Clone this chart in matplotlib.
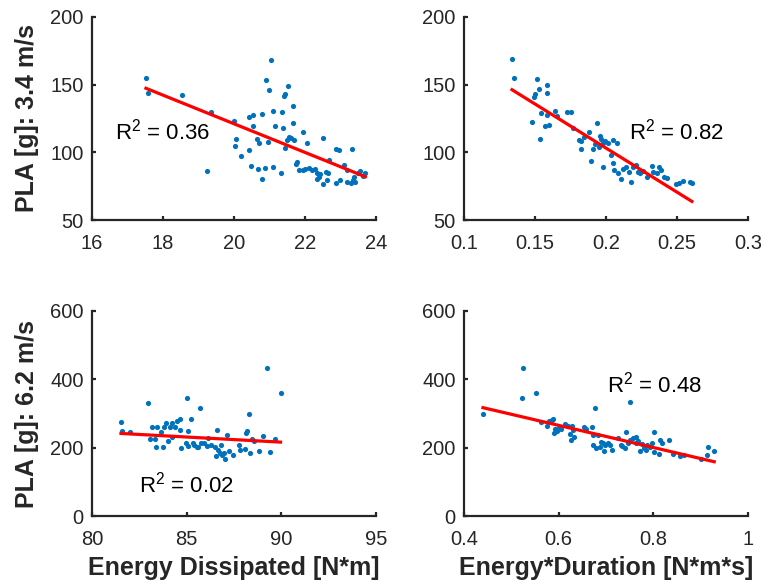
import numpy as np
import matplotlib
matplotlib.use("Agg")
import matplotlib.pyplot as plt

plt.rcParams['font.family'] = ['Liberation Sans', 'DejaVu Sans']
plt.rcParams['mathtext.fontset'] = 'custom'
plt.rcParams['mathtext.rm'] = 'Liberation Sans'
plt.rcParams['mathtext.default'] = 'regular'

# --- top row: PLA at 3.4 m/s ---
energy_34 = [17.52, 17.57, 18.54, 19.34, 19.23, 20.0, 20.06, 20.04, 20.19, 20.41,
             20.48, 20.43, 20.54, 20.53, 20.64, 20.71, 20.69, 20.8, 20.79, 20.86,
             20.9, 20.98, 21.04, 21.11, 21.09, 21.16, 20.95, 21.35, 21.33, 21.41,
             21.44, 21.52, 21.37, 21.43, 21.5, 21.54, 21.6, 21.67, 21.68, 21.67,
             21.75, 21.78, 21.82, 21.95, 22.07, 22.01, 22.12, 22.2, 22.29, 22.33,
             22.35, 22.39, 22.42, 22.52, 22.52, 22.59, 22.65, 22.67, 22.87, 22.95,
             22.87, 22.99, 23.1, 23.17, 23.31, 23.29, 23.36, 23.38, 23.49, 23.55,
             23.63, 23.7, 23.42, 23.17, 22.61, 21.93]
pla_34_e = [154.9, 143.6, 142.6, 129.8, 86.2, 122.9, 109.6, 104.9, 97.5, 101.5,
            89.9, 126.3, 127.6, 119.7, 110.1, 107.2, 87.7, 128.6, 80.3, 88.2,
            153.5, 146.1, 168.2, 130.6, 89.4, 119.5, 107.9, 129.8, 85.0, 141.6,
            143.1, 149.3, 117.7, 103.0, 109.1, 111.6, 110.6, 134.2, 109.1, 121.4,
            91.1, 93.1, 86.9, 114.8, 106.7, 87.7, 88.2, 86.9, 87.4, 84.5,
            80.6, 82.0, 84.0, 110.4, 76.9, 85.5, 85.0, 94.3, 102.5, 101.7,
            77.1, 79.3, 90.6, 86.9, 102.7, 77.1, 79.6, 82.0, 84.5, 86.5,
            82.5, 84.5, 78.1, 78.3, 79.6, 86.9]

edur_34 = [0.1338, 0.1352, 0.1516, 0.1526, 0.1502, 0.1493, 0.1582, 0.1587, 0.1479, 0.1535,
           0.1544, 0.1568, 0.1601, 0.1587, 0.1638, 0.1657, 0.1723, 0.1751, 0.1765, 0.1807,
           0.1821, 0.1845, 0.1878, 0.1897, 0.1906, 0.192, 0.1934, 0.1948, 0.1957, 0.1967,
           0.1981, 0.1976, 0.1995, 0.2013, 0.2033, 0.2047, 0.2051, 0.2056, 0.2075, 0.2084,
           0.2103, 0.2122, 0.2141, 0.216, 0.2179, 0.2192, 0.2211, 0.2225, 0.2239, 0.2258,
           0.2286, 0.2324, 0.2333, 0.2357, 0.2375, 0.239, 0.2408, 0.2432, 0.2493, 0.2511,
           0.254, 0.2591, 0.2605, 0.1821]
pla_34_d = [168.7, 154.9, 154.0, 146.6, 142.9, 141.1, 149.5, 143.6, 122.7, 110.1,
            128.8, 119.7, 120.0, 127.6, 130.6, 126.8, 129.6, 129.6, 117.7, 109.1,
            102.5, 111.6, 115.0, 93.4, 102.2, 105.9, 121.4, 104.2, 112.1, 109.6,
            89.4, 106.6, 108.1, 106.6, 97.8, 109.1, 91.9, 86.9, 106.6, 85.0,
            80.1, 87.4, 89.4, 85.5, 78.1, 89.4, 90.4, 85.5, 84.5, 86.5,
            82.0, 89.9, 85.5, 84.5, 88.9, 86.9, 82.0, 81.0, 76.6, 77.1,
            79.1, 78.1, 77.6, 108.1]

# --- bottom row: PLA at 6.2 m/s ---
energy_62 = [81.53, 81.6, 81.99, 82.98, 83.05, 83.19, 83.44, 83.33, 83.4, 83.75,
             83.65, 83.79, 83.93, 84.04, 84.11, 84.21, 84.39, 84.49, 84.64, 84.64,
             84.71, 84.95, 85.04, 85.09, 85.22, 85.09, 85.31, 85.41, 85.52, 85.62,
             85.69, 85.76, 85.9, 86.05, 86.12, 86.26, 86.5, 86.54, 86.61, 86.64,
             86.75, 86.82, 86.89, 86.96, 87.03, 87.14, 87.21, 87.46, 87.74, 87.81,
             88.06, 88.13, 88.2, 88.27, 88.44, 88.37, 88.58, 88.8, 89.01, 89.22,
             89.39, 89.68, 89.96, 84.25]
pla_62_e = [274.7, 247.4, 245.4, 332.1, 224.0, 261.0, 261.0, 224.0, 202.6, 202.6,
            245.4, 261.0, 270.8, 220.1, 259.1, 231.8, 261.0, 278.6, 282.5, 251.3,
            197.7, 212.3, 346.7, 247.4, 284.4, 204.5, 212.3, 207.5, 200.6, 200.6,
            317.5, 212.3, 214.3, 204.5, 226.9, 207.5, 202.6, 175.3, 251.3, 192.9,
            185.1, 207.5, 177.3, 185.1, 167.5, 237.7, 189.0, 178.2, 208.4, 192.9,
            196.8, 241.6, 247.4, 298.0, 224.0, 183.1, 220.1, 190.9, 233.8, 432.5,
            188.0, 224.0, 360.4, 270.8]

edur_62 = [0.4401, 0.5218, 0.5246, 0.5528, 0.5627, 0.5753, 0.5795, 0.5852, 0.588, 0.5894,
           0.5922, 0.5964, 0.6008, 0.6049, 0.6133, 0.6189, 0.6232, 0.6274, 0.626, 0.633,
           0.6302, 0.6527, 0.6569, 0.6709, 0.6724, 0.6767, 0.6724, 0.6795, 0.6837, 0.6865,
           0.6894, 0.6936, 0.695, 0.6978, 0.7034, 0.7076, 0.7133, 0.726, 0.7316, 0.7344,
           0.7401, 0.7429, 0.7457, 0.7499, 0.7513, 0.757, 0.7626, 0.764, 0.7682, 0.771,
           0.7753, 0.7795, 0.7837, 0.7865, 0.7922, 0.7978, 0.802, 0.802, 0.8119, 0.8133,
           0.8175, 0.833, 0.8414, 0.8569, 0.864, 0.9006, 0.9132, 0.916, 0.9287]
pla_62_d = [298.0, 346.7, 433.4, 360.4, 274.7, 263.0, 278.6, 280.5, 284.4, 243.5,
            255.2, 249.3, 257.1, 253.2, 268.8, 263.0, 239.6, 263.0, 222.1, 231.8,
            251.3, 261.0, 255.2, 261.0, 235.7, 317.5, 208.4, 198.7, 237.7, 202.6,
            216.2, 212.3, 189.0, 206.5, 212.3, 208.4, 192.9, 227.9, 208.4, 204.5,
            198.7, 245.4, 214.3, 333.1, 222.1, 227.9, 212.3, 231.8, 220.1, 189.0,
            210.4, 198.7, 192.9, 208.4, 202.6, 212.3, 245.4, 187.0, 181.2, 222.1,
            214.3, 222.1, 181.2, 175.3, 177.3, 167.5, 179.2, 202.6, 190.9]

# linear fits (slope, intercept) and R^2 values as shown
fits = [(-10.58, 332.7), (-651.3, 233.4), (-3.01, 487.0), (-323.9, 459.6)]
r2_values = ["0.36", "0.82", "0.02", "0.48"]

xlabels = ["Energy Dissipated [N*m]", "Energy*Duration [N*m*s]"]
ylabels = ["PLA [g]: 3.4 m/s", "PLA [g]: 6.2 m/s"]

panels = [
    (energy_34, pla_34_e, (16, 24), [16, 18, 20, 22, 24], (50, 200), [50, 100, 150, 200], (16.65, 115)),
    (edur_34, pla_34_d, (0.1, 0.3), [0.1, 0.15, 0.2, 0.25, 0.3], (50, 200), [50, 100, 150, 200], (0.2162, 115)),
    (energy_62, pla_62_e, (80, 95), [80, 85, 90, 95], (0, 600), [0, 200, 400, 600], (82.48, 91)),
    (edur_62, pla_62_d, (0.4, 1.0), [0.4, 0.6, 0.8, 1.0], (0, 600), [0, 200, 400, 600], (0.702, 386)),
]

W, H = 766, 588
fig = plt.figure(figsize=(W / 100, H / 100), dpi=100)
boxes = [(92, 17, 284, 203), (464, 17, 284, 203), (92, 311, 284, 205), (464, 311, 284, 205)]
text_color = '#262626'

for i, (xs, ys, xlim, xticks, ylim, yticks, r2pos) in enumerate(panels):
    left, top, w, h = boxes[i]
    ax = fig.add_axes([left / W, 1 - (top + h) / H, w / W, h / H])
    ax.scatter(xs, ys, s=14, color='#0072BD', linewidths=0, zorder=2)
    slope, intercept = fits[i]
    xx = np.array([min(xs), max(xs)])
    ax.plot(xx, slope * xx + intercept, color='red', lw=2.3, zorder=3)
    ax.text(r2pos[0], r2pos[1], f"R$^2$ = {r2_values[i]}", fontsize=16,
            va='center', ha='left', color='black')
    ax.set_xlim(*xlim)
    ax.set_ylim(*ylim)
    ax.set_xticks(xticks)
    ax.set_yticks(yticks)
    ax.set_xticklabels([f"{t:g}" for t in xticks])
    for s in ['top', 'right']:
        ax.spines[s].set_visible(False)
    for s in ['left', 'bottom']:
        ax.spines[s].set_linewidth(1.6)
        ax.spines[s].set_color(text_color)
    ax.tick_params(direction='in', length=3, width=1.6, labelsize=14.5,
                   colors=text_color)
    ax.tick_params(axis='x', pad=10)
    ax.tick_params(axis='y', pad=6)
    if i >= 2:
        ax.set_xlabel(xlabels[i - 2], fontsize=18, fontweight='bold',
                      color=text_color, labelpad=5)
    if i % 2 == 0:
        ax.set_ylabel(ylabels[i // 2], fontsize=18, fontweight='bold',
                      color=text_color, labelpad=8)

fig.savefig("out.png", dpi=100)
